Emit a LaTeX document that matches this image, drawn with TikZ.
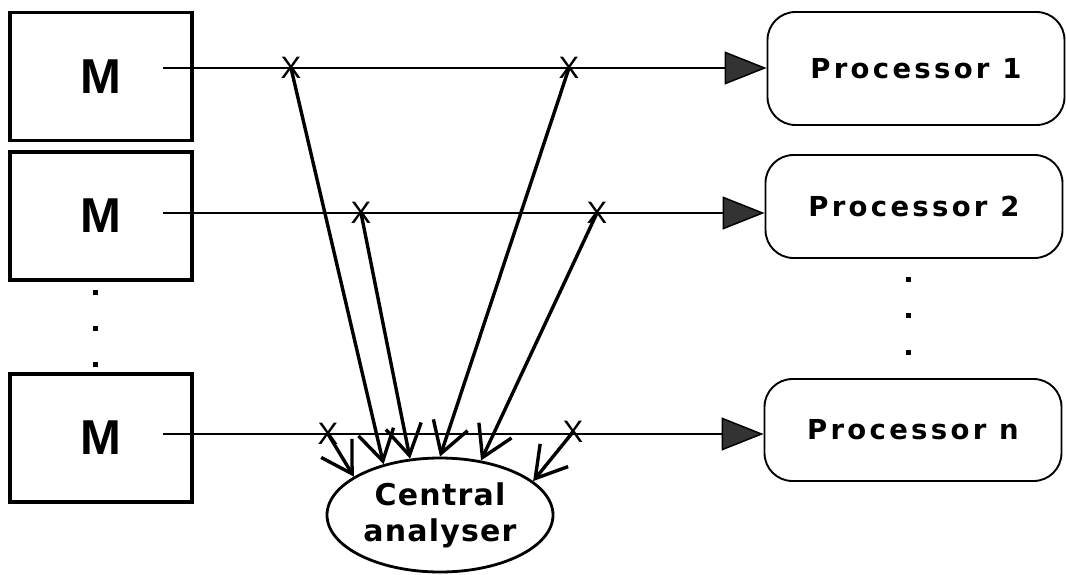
\documentclass[tikz,border=0pt]{standalone}
\usepackage{fontspec}
\setmainfont{Liberation Sans}
\newfontfamily\procfont[LetterSpace=12]{DejaVu Sans}
\newfontfamily\centralfont[LetterSpace=4]{DejaVu Sans}
\usetikzlibrary{arrows.meta, positioning, shapes.geometric}

\begin{document}
\begin{tikzpicture}[
        x=1pt, y=-1pt,
        mbox/.style={draw, line width=3.4pt, minimum width=182pt, minimum height=128pt, inner sep=0pt, font=\fontsize{49}{49}\selectfont\bfseries},
        procbox/.style={draw, line width=1.9pt, rounded corners=28pt, minimum width=297pt, inner sep=0pt, font=\fontsize{27.5}{34}\procfont\bfseries},
        analyser/.style={draw, ellipse, line width=2.8pt, minimum width=226pt, minimum height=114pt, inner sep=0pt, align=center, font=\fontsize{30}{36}\centralfont\bfseries},
        xmark/.style={inner sep=0pt, font=\fontsize{31}{31}\selectfont},
        flow/.style={line width=1.5pt, -{Triangle[length=42pt, width=33pt, fill=black!80]}},
        probe/.style={line width=3.4pt, -{Straight Barb[length=30pt, width=36pt]}}
    ]
    \useasboundingbox (0,0) rectangle (1066,574);

    % memories
    \node[mbox] (m1) at (101,76.5) {M};
    \node[mbox] (m2) at (101,216) {M};
    \node[mbox] (m3) at (101,438) {M};
    \foreach \y in {292,328,364}
        \fill (95,\y) +(-2.5,-2.5) rectangle +(2.5,2.5);

    % processors
    \node[procbox, minimum height=113pt] (p1) at (916,68.5) {Processor 1};
    \node[procbox, minimum height=103pt] (p2) at (914,206.5) {Processor 2};
    \node[procbox, minimum height=102pt] (pn) at (913,430) {Processor n};
    \foreach \y in {279,315,352}
        \fill (908,\y) +(-2.5,-2.5) rectangle +(2.5,2.5);

    % central analyser
    \node[analyser] (ca) at (440,515) {Central\\analyser};

    % memory to processor lines
    \coordinate (s1) at (163,68);
    \coordinate (s2) at (163,213);
    \coordinate (s3) at (163,434);
    \draw[flow] (s1) -- (s1 -| p1.west);
    \draw[flow] (s2) -- (s2 -| p2.west);
    \draw[flow] (s3) -- (s3 -| pn.west);

    % probe points
    \node[xmark] (x1a) at (291,68) {X};
    \node[xmark] (x1b) at (569,68) {X};
    \node[xmark] (x2a) at (361,213) {X};
    \node[xmark] (x2b) at (597,213) {X};
    \node[xmark] (x3a) at (328,434) {X};
    \node[xmark] (x3b) at (573,432) {X};

    \draw[probe] (x1a.center) -- (ca.138);
    \draw[probe] (x2a.center) -- (ca.118);
    \draw[probe] (x1b.center) -- (ca.90);
    \draw[probe] (x2b.center) -- (ca.53);
    \draw[probe] (x3a.center) -- (ca.156);
    \draw[probe] (x3b.center) -- (ca.20);

\end{tikzpicture}
\end{document}
